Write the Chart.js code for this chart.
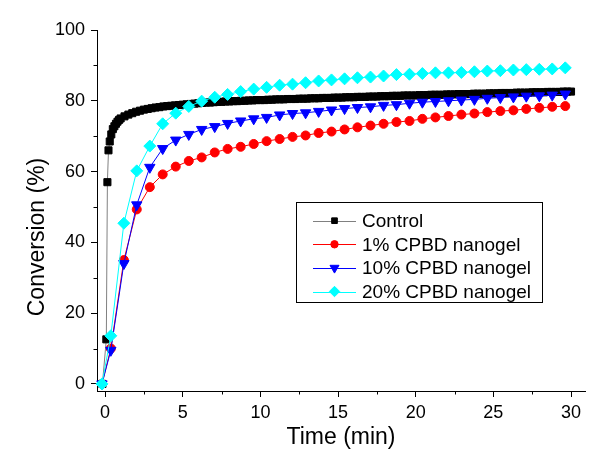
<!DOCTYPE html>
<html><head><meta charset="utf-8">
<script src="https://cdn.jsdelivr.net/npm/chart.js@4.4.1/dist/chart.umd.min.js"></script>
<style>html,body{margin:0;padding:0;background:#fff}#wrap{width:602px;height:455px}</style>
</head><body><div id="wrap"><canvas id="c" width="602" height="455"></canvas></div>
<script>
const seriesLabels = ['Control', '1% CPBD nanogel', '10% CPBD nanogel', '20% CPBD nanogel'];

const controlTime = [-0.17, 0.08, 0.15, 0.22, 0.3, 0.4, 0.5, 0.6, 0.7, 0.8, 0.9,
  1.0, 1.25, 1.5, 1.75, 2.0, 2.25, 2.5, 2.75, 3.0, 3.25, 3.5, 3.75, 4.0, 4.25, 4.5, 4.75,
  5.0, 5.25, 5.5, 5.75, 6.0, 6.25, 6.5, 6.75, 7.0, 7.25, 7.5, 7.75, 8.0, 8.25, 8.5, 8.75,
  9.0, 9.25, 9.5, 9.75, 10.0, 10.25, 10.5, 10.75, 11.0, 11.25, 11.5, 11.75, 12.0, 12.25, 12.5, 12.75,
  13.0, 13.25, 13.5, 13.75, 14.0, 14.25, 14.5, 14.75, 15.0, 15.25, 15.5, 15.75, 16.0, 16.25, 16.5, 16.75,
  17.0, 17.25, 17.5, 17.75, 18.0, 18.25, 18.5, 18.75, 19.0, 19.25, 19.5, 19.75, 20.0, 20.25, 20.5, 20.75,
  21.0, 21.25, 21.5, 21.75, 22.0, 22.25, 22.5, 22.75, 23.0, 23.25, 23.5, 23.75, 24.0, 24.25, 24.5, 24.75,
  25.0, 25.25, 25.5, 25.75, 26.0, 26.25, 26.5, 26.75, 27.0, 27.25, 27.5, 27.75, 28.0, 28.25, 28.5, 28.75,
  29.0, 29.25, 29.5, 29.75, 30.0];
const controlValue = [0, 12.6, 57.0, 66.0, 68.5, 70.5, 72.0, 72.8, 73.5, 74.1, 74.6,
  75.0, 75.6, 76.1, 76.5, 76.9, 77.2, 77.5, 77.7, 77.9, 78.1, 78.2, 78.4, 78.5, 78.6, 78.7, 78.8,
  78.9, 79.0, 79.1, 79.2, 79.3, 79.4, 79.5, 79.5, 79.6, 79.7, 79.7, 79.8, 79.8, 79.9, 79.9, 80.0,
  80.0, 80.1, 80.1, 80.2, 80.2, 80.2, 80.3, 80.3, 80.4, 80.4, 80.4, 80.5, 80.5, 80.5, 80.6, 80.6,
  80.6, 80.7, 80.7, 80.7, 80.8, 80.8, 80.8, 80.9, 80.9, 80.9, 81.0, 81.0, 81.0, 81.1, 81.1, 81.1,
  81.2, 81.2, 81.2, 81.3, 81.3, 81.3, 81.4, 81.4, 81.4, 81.5, 81.5, 81.5, 81.5, 81.6, 81.6, 81.6,
  81.7, 81.7, 81.7, 81.7, 81.8, 81.8, 81.8, 81.9, 81.9, 81.9, 81.9, 82.0, 82.0, 82.0, 82.0, 82.1,
  82.1, 82.1, 82.2, 82.2, 82.2, 82.2, 82.3, 82.3, 82.3, 82.3, 82.4, 82.4, 82.4, 82.4, 82.5, 82.5,
  82.5, 82.5, 82.6, 82.6, 82.6];

const sampleTime = [-0.2, 0.37, 1.21, 2.04, 2.88, 3.71, 4.55, 5.39, 6.22, 7.06, 7.89, 8.73, 9.57,
  10.4, 11.24, 12.07, 12.91, 13.75, 14.58, 15.42, 16.25, 17.09, 17.93, 18.76, 19.6, 20.43, 21.27,
  22.11, 22.94, 23.78, 24.61, 25.45, 26.29, 27.12, 27.96, 28.79, 29.63];
const cpbd1Value = [0, 10.0, 35.0, 49.3, 55.6, 59.2, 61.4, 63.0, 64.0, 65.4, 66.4, 67.0, 67.8,
  68.6, 69.2, 69.8, 70.2, 70.9, 71.3, 71.9, 72.5, 73.0, 73.5, 74.0, 74.3, 74.9, 75.3,
  75.7, 76.1, 76.4, 76.8, 77.1, 77.3, 77.7, 78.0, 78.3, 78.5];
const cpbd10Value = [0, 9.5, 34.0, 50.6, 61.2, 66.5, 68.9, 70.5, 71.9, 72.7, 73.6, 74.3, 74.9,
  75.3, 76.0, 76.4, 76.6, 77.0, 77.4, 77.8, 78.1, 78.3, 78.7, 78.9, 79.3, 79.6, 79.8,
  80.0, 80.2, 80.4, 80.7, 80.9, 81.1, 81.3, 81.4, 81.6, 81.9];
const cpbd20Value = [0, 13.6, 45.4, 60.2, 67.2, 73.5, 76.5, 78.4, 79.9, 81.0, 81.8, 82.6, 83.3,
  83.8, 84.4, 84.7, 85.1, 85.6, 85.9, 86.2, 86.5, 86.7, 87.0, 87.4, 87.5, 87.7, 87.9,
  87.9, 88.0, 88.2, 88.4, 88.5, 88.7, 88.8, 88.9, 89.0, 89.3];

const xMajorTicks = [0, 5, 10, 15, 20, 25, 30];
const xMinorTicks = [2.5, 7.5, 12.5, 17.5, 22.5, 27.5];
const yMajorTicks = [0, 20, 40, 60, 80, 100];
const yMinorTicks = [10, 30, 50, 70, 90];
const xTitle = 'Time (min)';
const yTitle = 'Conversion (%)';

const FONT = '"Liberation Sans", Arial, sans-serif';
function pts(xs, ys) { return xs.map((x, i) => ({ x: x, y: ys[i] })); }

const datasets = [
  { label: seriesLabels[0], data: pts(controlTime, controlValue), borderColor: '#808080', borderWidth: 1,
    pointStyle: 'rect', pointRadius: 5, pointBackgroundColor: '#000', pointBorderColor: '#000', pointBorderWidth: 1,
    legendLine: '#808080', legendRadius: 4, order: 4 },
  { label: seriesLabels[1], data: pts(sampleTime, cpbd1Value), borderColor: '#FF0000', borderWidth: 1,
    pointStyle: 'circle', pointRadius: 4.5, pointBackgroundColor: '#FF0000', pointBorderColor: '#FF0000', pointBorderWidth: 1,
    legendLine: '#FF0000', legendRadius: 3.7, order: 3 },
  { label: seriesLabels[2], data: pts(sampleTime, cpbd10Value), borderColor: '#0000FF', borderWidth: 1,
    pointStyle: 'triangle', pointRotation: 180, pointRadius: 6, pointBackgroundColor: '#0000FF', pointBorderColor: '#0000FF', pointBorderWidth: 1,
    legendLine: '#0000FF', legendRadius: 5.2, order: 2 },
  { label: seriesLabels[3], data: pts(sampleTime, cpbd20Value), borderColor: '#00FFFF', borderWidth: 1,
    pointStyle: 'rectRot', pointRadius: 6, pointBackgroundColor: '#00FFFF', pointBorderColor: '#00FFFF', pointBorderWidth: 1,
    legendLine: '#00FFFF', legendRadius: 5.2, order: 1 }
];
datasets.forEach(d => { d.showLine = true; d.tension = 0; d.clip = false; });

function manualPoint(ctx, style, r, rot, x, y) {
  ctx.beginPath();
  if (style === 'circle') { ctx.arc(x, y, r, 0, Math.PI * 2); }
  else if (style === 'rect') { const s = r * Math.SQRT1_2; ctx.rect(x - s, y - s, 2 * s, 2 * s); }
  else if (style === 'rectRot') { ctx.moveTo(x, y - r); ctx.lineTo(x + r, y); ctx.lineTo(x, y + r); ctx.lineTo(x - r, y); ctx.closePath(); }
  else if (style === 'triangle') {
    let a = (rot || 0) * Math.PI / 180;
    ctx.moveTo(x + Math.sin(a) * r, y - Math.cos(a) * r);
    a += 2 * Math.PI / 3; ctx.lineTo(x + Math.sin(a) * r, y - Math.cos(a) * r);
    a += 2 * Math.PI / 3; ctx.lineTo(x + Math.sin(a) * r, y - Math.cos(a) * r);
    ctx.closePath();
  }
  ctx.fill(); ctx.stroke();
}

const extras = {
  id: 'extras',
  afterDraw(chart) {
    const ctx = chart.ctx;
    const xs = chart.scales.x, ys = chart.scales.y;
    ctx.save();
    ctx.strokeStyle = '#000'; ctx.lineWidth = 1;
    // minor ticks
    ctx.beginPath();
    xMinorTicks.forEach(v => {
      const px = Math.round(xs.getPixelForValue(v)) + 0.5;
      ctx.moveTo(px, xs.top); ctx.lineTo(px, xs.top + 3.5);
    });
    yMinorTicks.forEach(v => {
      const py = Math.round(ys.getPixelForValue(v)) + 0.5;
      ctx.moveTo(ys.right, py); ctx.lineTo(ys.right - 3.5, py);
    });
    ctx.stroke();
    // y title
    ctx.save();
    ctx.translate(38, 237);
    ctx.rotate(-Math.PI / 2);
    ctx.fillStyle = '#000';
    ctx.font = '23px ' + FONT;
    ctx.textAlign = 'center'; ctx.textBaseline = 'middle';
    ctx.fillText(yTitle, 0, 0);
    ctx.restore();
    // legend
    const lx = 296.5, ly = 202.5, rowH = 23.6, firstY = 220.7;
    ctx.font = '19px ' + FONT;
    let maxW = 0;
    chart.data.datasets.forEach(d => { maxW = Math.max(maxW, ctx.measureText(d.label).width); });
    const boxW = Math.round(362 - lx + maxW + 12), boxH = 100;
    ctx.fillStyle = '#fff';
    ctx.fillRect(lx, ly, boxW, boxH);
    ctx.strokeStyle = '#000'; ctx.lineWidth = 1;
    ctx.strokeRect(lx, ly, boxW, boxH);
    chart.data.datasets.forEach((d, i) => {
      const y = firstY + i * rowH;
      const yl = Math.round(y) + 0.5;
      ctx.strokeStyle = d.legendLine; ctx.lineWidth = 1;
      ctx.beginPath(); ctx.moveTo(313, yl); ctx.lineTo(356, yl); ctx.stroke();
      ctx.fillStyle = d.pointBackgroundColor; ctx.strokeStyle = d.pointBorderColor; ctx.lineWidth = 1;
      const h = Chart.helpers;
      if (h && h.drawPoint) {
        h.drawPoint(ctx, { pointStyle: d.pointStyle, rotation: d.pointRotation || 0, radius: d.legendRadius, borderWidth: 1 }, 334.5, y);
      } else {
        manualPoint(ctx, d.pointStyle, d.legendRadius, d.pointRotation, 334.5, y);
      }
      ctx.fillStyle = '#000';
      ctx.textAlign = 'left'; ctx.textBaseline = 'middle';
      ctx.fillText(d.label, 362, y + 1);
    });
    ctx.restore();
  }
};

const axisCommon = {
  type: 'linear',
  grid: { display: true, drawOnChartArea: false, drawTicks: true, tickLength: 6, tickColor: '#000', tickWidth: 1 },
  border: { display: true, color: '#000', width: 1 },
  ticks: { color: '#000', font: { family: FONT, size: 18 }, maxRotation: 0, autoSkip: false }
};

new Chart(document.getElementById('c'), {
  type: 'scatter',
  data: { datasets: datasets },
  plugins: [extras],
  options: {
    responsive: false,
    devicePixelRatio: 1,
    animation: false,
    layout: { padding: { left: 0, top: 30, right: 17, bottom: 0 } },
    plugins: { legend: { display: false }, tooltip: { enabled: false } },
    scales: {
      x: Object.assign({}, axisCommon, {
        position: 'bottom', min: -0.52, max: 30.9,
        ticks: Object.assign({}, axisCommon.ticks, { padding: 5 }),
        afterBuildTicks: s => { s.ticks = xMajorTicks.map(v => ({ value: v })); },
        afterFit: s => { s.height = 64; },
        title: { display: true, text: xTitle, color: '#000', font: { family: FONT, size: 23 }, padding: { top: 0, bottom: 4 } }
      }),
      y: Object.assign({}, axisCommon, {
        position: 'left', min: -2, max: 100,
        ticks: Object.assign({}, axisCommon.ticks, { padding: 6 }),
        afterBuildTicks: s => { s.ticks = yMajorTicks.map(v => ({ value: v })); },
        afterFit: s => { s.width = 97; }
      })
    }
  }
});
</script>
</body></html>
